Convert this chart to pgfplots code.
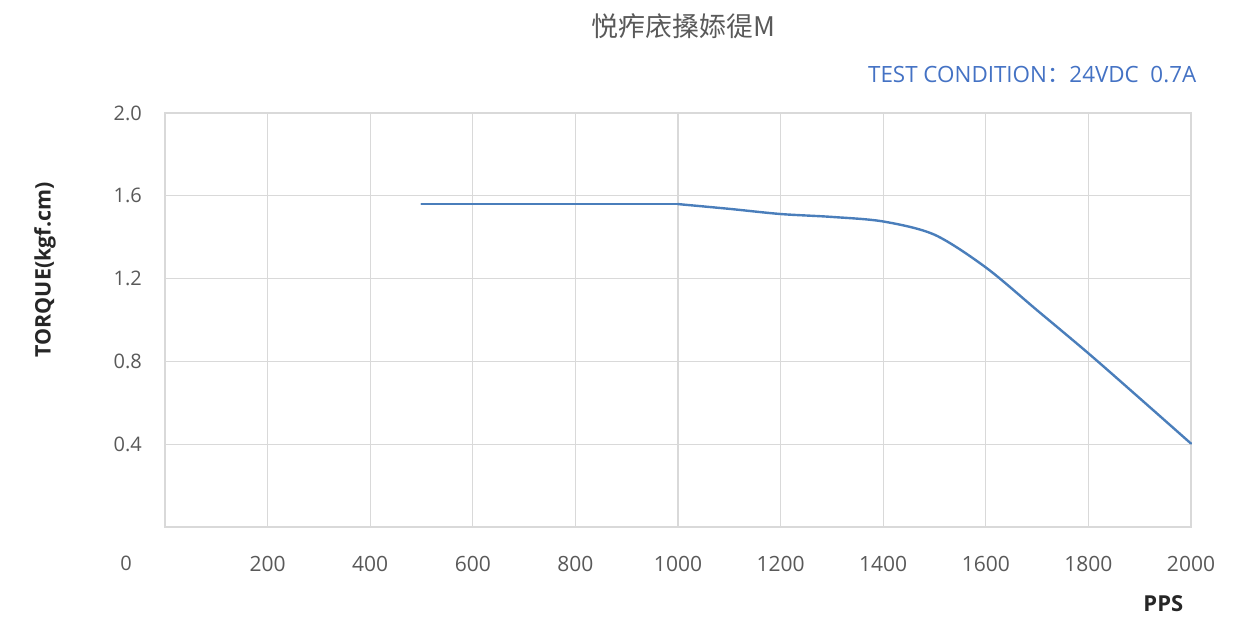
\documentclass[border=0pt]{standalone}
\usepackage{pgfplots}
\pgfplotsset{compat=1.18}
\usepackage{fontspec}
\setmainfont{Open Sans}
\newfontfamily\cjk{Noto Sans CJK SC}
\definecolor{gridc}{RGB}{217,217,217}
\definecolor{txt}{RGB}{89,89,89}
\definecolor{linec}{RGB}{74,126,187}
\definecolor{condc}{RGB}{68,114,196}
\begin{document}
\begin{tikzpicture}
\path[use as bounding box] (-82.5pt,-45.5pt) rectangle (543pt,263.5pt);
\begin{axis}[
  at={(0,0)}, anchor=south west,
  scale only axis, width=513pt, height=207pt,
  xmin=0, xmax=2000, ymin=0, ymax=2,
  xtick={200,400,600,800,1000,1200,1400,1600,1800,2000},
  ytick={0.4,0.8,1.2,1.6,2.0},
  grid=major,
  grid style={gridc, line width=0.6pt},
  axis line style={gridc, line width=0.6pt},
  major tick length=0pt,
  tick label style={font=\fontsize{10}{12}\selectfont, text=txt},
  /pgf/number format/assume math mode=true,
  yticklabel style={/pgf/number format/fixed, /pgf/number format/fixed zerofill, /pgf/number format/precision=1, xshift=-8pt},
  xticklabel style={/pgf/number format/1000 sep={}, yshift=-11pt, font=\fontsize{10.5}{12}\selectfont},
  scaled y ticks=false,
  title={\cjk 悦痄庡搡婖徥M},
  title style={at={(axis description cs:0.505,1.18)}, anchor=center, font=\cjk\fontsize{13.5}{15}\selectfont, text=txt},
  ylabel={\textbf{TORQUE(kgf.cm)}},
  ylabel style={at={(axis description cs:-0.117,0.621)}, anchor=center, rotate=0, font=\fontsize{10.7}{12}\selectfont, text=black!85},
  xlabel={\textbf{PPS}},
  xlabel style={at={(axis description cs:0.973,-0.186)}, anchor=center, font=\fontsize{11}{13}\selectfont, text=black!85},
  clip=false,
]
\addplot[linec, line width=1.2pt, line cap=round] coordinates {
  (500,1.56) (1000,1.56)
};
\addplot[linec, line width=1.2pt, smooth, tension=0.5, line cap=round] coordinates {
  (1000,1.56)
  (1100,1.537) (1200,1.512) (1300,1.498) (1400,1.476) (1500,1.412)
  (1600,1.254) (1700,1.047) (1800,0.839) (1900,0.622) (2000,0.403)
};
\node[font=\fontsize{10}{12}\selectfont, text=txt] at (axis description cs:-0.038,-0.087) {0};
\node[font=\fontsize{11.2}{13}\selectfont, text=condc, anchor=east] at (axis description cs:1.012,1.094) {TEST CONDITION{\cjk ：}24VDC\ \ 0.7A};
\end{axis}
\end{tikzpicture}
\end{document}
